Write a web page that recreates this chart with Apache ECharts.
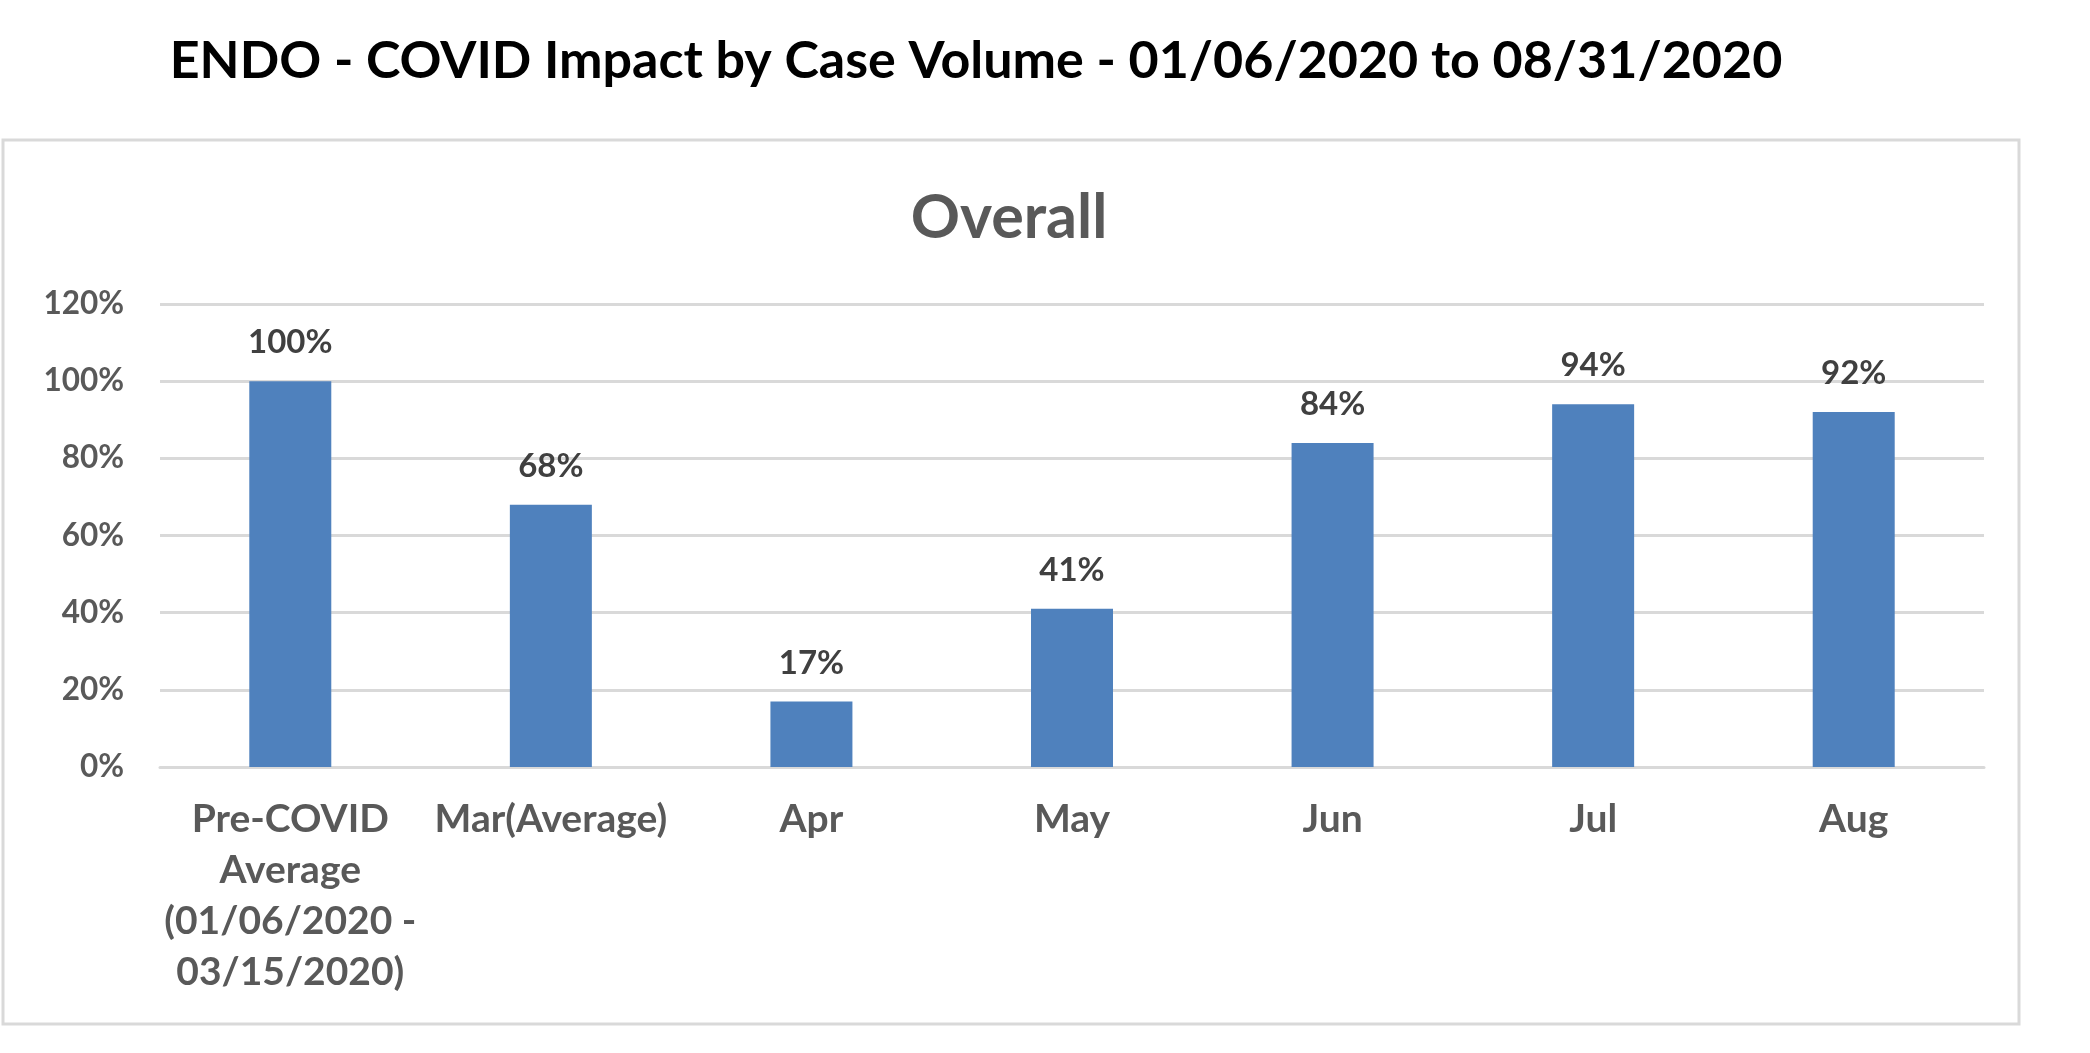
<!DOCTYPE html>
<html>
<head>
<meta charset="utf-8">
<script src="https://cdn.jsdelivr.net/npm/echarts@6/dist/echarts.min.js"></script>
<style>
html,body{margin:0;padding:0;background:#fff;}
#c{width:2090px;height:1053px;}
</style>
</head>
<body>
<div id="c"></div>
<script>
const categories = ["Pre-COVID\nAverage\n(01/06/2020 -\n03/15/2020)", "Mar(Average)", "Apr", "May", "Jun", "Jul", "Aug"];
const values = [100, 68, 17, 41, 84, 94, 92];
const yTicks = {min: 0, max: 120, interval: 20};
const mainTitle = "ENDO - COVID Impact by Case Volume - 01/06/2020 to 08/31/2020";
const chartTitle = "Overall";

const FONT = "Lato, 'Open Sans', sans-serif";
const chart = echarts.init(document.getElementById('c'), null, {renderer: 'canvas'});
chart.setOption({
  backgroundColor: '#ffffff',
  animation: false,
  graphic: [{
    type: 'rect',
    shape: {x: 3, y: 140, width: 2016, height: 884},
    style: {fill: 'none', stroke: '#d9d9d9', lineWidth: 3},
    z: 0
  }],
  title: [{
    text: mainTitle,
    left: 971, top: 56, textAlign: 'center', textVerticalAlign: 'middle',
    textStyle: {fontFamily: FONT, fontWeight: 'bold', fontSize: 52, color: '#000000'}
  }, {
    text: chartTitle,
    left: 1004, top: 213, textAlign: 'center', textVerticalAlign: 'middle',
    textStyle: {fontFamily: FONT, fontWeight: 'bold', fontSize: 61, color: '#595959'}
  }],
  grid: {left: 160, right: 106, top: 304, bottom: 286, containLabel: false},
  xAxis: {
    type: 'category',
    data: categories,
    axisLine: {show: true, lineStyle: {color: '#d9d9d9', width: 3}},
    axisTick: {show: false},
    axisLabel: {
      interval: 0, margin: 27, fontFamily: FONT, fontWeight: 'bold', fontSize: 39,
      color: '#595959', lineHeight: 51
    }
  },
  yAxis: {
    type: 'value',
    min: yTicks.min, max: yTicks.max, interval: yTicks.interval,
    axisLine: {show: false},
    axisTick: {show: false},
    splitLine: {lineStyle: {color: '#d9d9d9', width: 3}},
    axisLabel: {
      margin: 36, fontFamily: FONT, fontWeight: 'bold', fontSize: 31.5, color: '#595959',
      formatter: '{value}%'
    }
  },
  series: [{
    type: 'bar',
    data: values,
    barWidth: 82,
    itemStyle: {color: '#4f81bd'},
    label: {
      show: true, position: 'top', distance: 22,
      fontFamily: FONT, fontWeight: 'bold', fontSize: 33, color: '#404040',
      formatter: '{c}%'
    }
  }]
});
</script>
</body>
</html>
